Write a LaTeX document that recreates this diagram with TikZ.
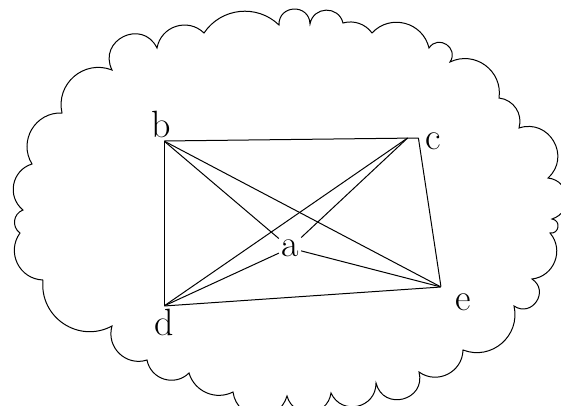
\documentclass[tikz,border=0pt]{standalone}
\usetikzlibrary{positioning}

\begin{document}
\begin{tikzpicture}[
    x=0.5pt, y=-0.5pt,
    vertex/.style={inner sep=0pt, minimum size=0pt},
    vlabel/.style={font=\fontsize{19}{22}\selectfont, inner sep=1pt},
    line/.style={line width=0.5pt},
    flatpuff/.style={bend left=35, looseness=0.94},
    lowpuff/.style={bend left=50, looseness=1.04},
    puff/.style={bend left=62, looseness=1.16},
    roundpuff/.style={bend left=78, looseness=1.41},
    fullpuff/.style={bend left=90, looseness=1.7}
]

\useasboundingbox (0,0) rectangle (561,406);
\clip (0,0) rectangle (561,406);

\draw[line] (43,280) to[puff] (20,233) to[puff] (23,210) to[puff] (32,164)
    to[puff] (62,113) to[puff] (112,70) to[fullpuff] (157,48) to[puff] (204,33)
    to[lowpuff] (279,25) to[fullpuff] (310,24) to[roundpuff] (343,23)
    to[flatpuff] (372,33) to[puff] (429,48) to[fullpuff] (450,62) to[puff] (499,98)
    to[lowpuff] (519,128) to[roundpuff] (548,178) to[roundpuff] (552,219)
    to[fullpuff] (550,233) to[puff] (532,279) to[fullpuff] (514,306) to[puff] (463,350)
    to[puff] (419,372) to[fullpuff] (376,383) to[roundpuff] (331,393)
    to[roundpuff] (287,396) to[roundpuff] (233,392) to[lowpuff] (189,373)
    to[puff] (147,360) to[puff] (112,326) to[puff] (43,280);

\node[vertex] (b) at (164,141) {};
\node[vertex, minimum width=5pt] (c) at (413,138) {};
\node[vertex] (d) at (164,306) {};
\node[vertex] (e) at (441,287) {};
\node[vlabel] (a) at (290,248) {a};

\node[vlabel, above=0pt of b, xshift=-1.5pt] (lb) {b};
\node[vlabel, right=2.5pt of c.east, yshift=-1.5pt] (lc) {c};
\node[vlabel, below=0pt of d] (ld) {d};
\node[vlabel, below right=2pt and 6pt of e] (le) {e};

\draw[line] (b) -- (c.east);
\draw[line] (b) -- (d);
\draw[line] (b) -- (e);
\draw[line] (b) -- (a);
\draw[line] (c.west) -- (d);
\draw[line] (c.west) -- (a);
\draw[line] (c.east) -- (e);
\draw[line] (d) -- (e);
\draw[line] (d) -- (a);
\draw[line] (a) -- (e);

\end{tikzpicture}
\end{document}
